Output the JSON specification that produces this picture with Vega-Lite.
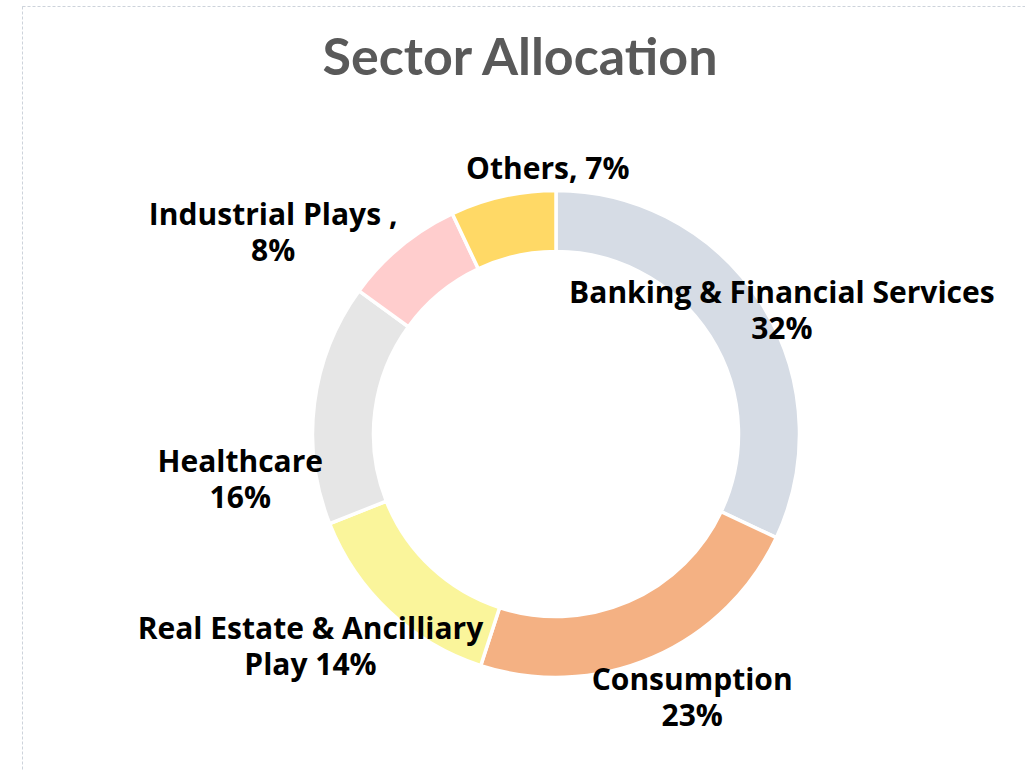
{
  "$schema": "https://vega.github.io/schema/vega-lite/v6.json",
  "autosize": {"type": "none"},
  "width": 1068,
  "height": 856,
  "padding": {"left": 22, "top": 6, "right": -65, "bottom": -92},
  "background": "white",
  "view": {"stroke": "#cdd3db", "strokeDash": [3, 2], "strokeWidth": 1},
  "title": {
    "text": "Sector Allocation",
    "font": "Lato",
    "fontSize": 52,
    "fontWeight": "bold",
    "color": "#595959",
    "anchor": "middle",
    "baseline": "alphabetic",
    "dx": -36,
    "offset": -121
  },
  "data": {
    "values": [
      {"sector": "Banking & Financial Services", "value": 32, "label": "Banking & Financial Services\n32%"},
      {"sector": "Consumption", "value": 23, "label": "Consumption\n23%"},
      {"sector": "Real Estate & Ancilliary Play", "value": 14, "label": "Real Estate & Ancilliary\nPlay 14%"},
      {"sector": "Healthcare", "value": 16, "label": "Healthcare\n16%"},
      {"sector": "Industrial Plays", "value": 8, "label": "Industrial Plays ,\n8%"},
      {"sector": "Others", "value": 7, "label": "Others, 7%"}
    ]
  },
  "transform": [{"window": [{"op": "row_number", "as": "idx"}]}],
  "encoding": {
    "theta": {"field": "value", "type": "quantitative", "stack": true},
    "order": {"field": "idx", "type": "quantitative"}
  },
  "layer": [
    {
      "mark": {"type": "arc", "outerRadius": 243.5, "innerRadius": 182.5, "stroke": "white", "strokeWidth": 3.5},
      "encoding": {
        "color": {
          "field": "sector",
          "type": "nominal",
          "scale": {
            "domain": ["Banking & Financial Services", "Consumption", "Real Estate & Ancilliary Play", "Healthcare", "Industrial Plays", "Others"],
            "range": ["#d6dce5", "#f4b183", "#faf59b", "#e6e6e6", "#ffcdcd", "#ffd966"]
          },
          "legend": null
        }
      }
    },
    {
      "mark": {
        "type": "text",
        "radius": 290,
        "font": "Open Sans",
        "fontSize": 30,
        "fontWeight": "bold",
        "color": "#000000",
        "align": "center",
        "baseline": "middle",
        "lineBreak": "\n",
        "lineHeight": 36,
        "dx": {"expr": "datum.sector == 'Banking & Financial Services' ? -19 : datum.sector == 'Consumption' ? 21 : datum.sector == 'Real Estate & Ancilliary Play' ? -47 : datum.sector == 'Healthcare' ? -28 : datum.sector == 'Industrial Plays' ? -98 : 55"},
        "dy": {"expr": "datum.sector == 'Banking & Financial Services' ? 15 : datum.sector == 'Consumption' ? -19 : datum.sector == 'Real Estate & Ancilliary Play' ? -15 : datum.sector == 'Healthcare' ? 65 : datum.sector == 'Industrial Plays' ? 5 : 19"}
      },
      "encoding": {
        "text": {"field": "label", "type": "nominal"},
        "detail": {"field": "sector", "type": "nominal"}
      }
    }
  ]
}
